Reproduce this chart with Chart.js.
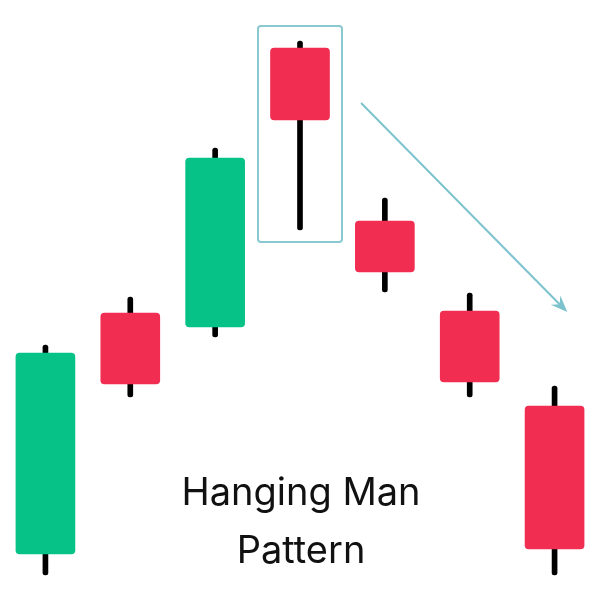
<!DOCTYPE html>
<html>
<head>
<meta charset="utf-8">
<script src="https://cdn.jsdelivr.net/npm/chart.js@4"></script>
<style>
  html, body { margin:0; padding:0; background:#fff; }
  #wrap { width:600px; height:600px; }
</style>
</head>
<body>
<div id="wrap"><canvas id="chart" width="600" height="600"></canvas></div>
<script>
// candles, left to right
const labels = ['1', '2', '3', '4', '5', '6', '7'];
const opens  = [46, 287, 273, 552, 379, 289, 194];
const closes = [247, 216, 442, 480, 328, 218, 51];
const highs  = [255, 303, 452, 559, 402, 307, 214];
const lows   = [25, 203, 263, 370, 308, 203, 25];

// highlighted candle and trend arrow (index units / price units)
const highlightIndex = 3;
const highlightTop = 574;
const highlightBottom = 358;
const arrowFrom = [3.72, 497];
const arrowTo = [6.15, 288];
const titleLines = ['Hanging Man', 'Pattern'];

const GREEN = '#07c286';
const RED = '#f22d52';

const bodyColors = opens.map((o, i) => closes[i] >= o ? GREEN : RED);

const overlay = {
  id: 'overlay',
  afterDatasetsDraw(chart){
    const { ctx, scales:{ x, y } } = chart;
    ctx.save();
    // box round the hanging man
    const cx = x.getPixelForValue(highlightIndex);
    ctx.strokeStyle = '#88c9d3';
    ctx.lineWidth = 2;
    ctx.beginPath();
    ctx.roundRect(cx - 42, y.getPixelForValue(highlightTop), 84,
      y.getPixelForValue(highlightBottom) - y.getPixelForValue(highlightTop), 3);
    ctx.stroke();

    // arrow
    const x1 = x.getPixelForValue(arrowFrom[0]), y1 = y.getPixelForValue(arrowFrom[1]);
    const x2 = x.getPixelForValue(arrowTo[0]),   y2 = y.getPixelForValue(arrowTo[1]);
    ctx.strokeStyle = '#7cc3cd';
    ctx.fillStyle = '#7cc3cd';
    ctx.lineWidth = 2;
    ctx.beginPath();
    ctx.moveTo(x1, y1);
    ctx.lineTo(x2 - 6, y2 - 6);
    ctx.stroke();
    const ang = Math.atan2(y2 - y1, x2 - x1);
    const len = 18, spread = 0.38;
    ctx.beginPath();
    ctx.moveTo(x2, y2);
    ctx.lineTo(x2 - len * Math.cos(ang - spread), y2 - len * Math.sin(ang - spread));
    ctx.lineTo(x2 - len * 0.6 * Math.cos(ang), y2 - len * 0.6 * Math.sin(ang));
    ctx.lineTo(x2 - len * Math.cos(ang + spread), y2 - len * Math.sin(ang + spread));
    ctx.closePath();
    ctx.fill();

    // caption
    ctx.fillStyle = '#111';
    ctx.font = '400 38px Inter, "Noto Sans", sans-serif';
    ctx.textAlign = 'center';
    ctx.textBaseline = 'alphabetic';
    ctx.fillText(titleLines[0], 301, 505);
    ctx.fillText(titleLines[1], 301, 563);
    ctx.restore();
  }
};

new Chart(document.getElementById('chart').getContext('2d'), {
  type: 'bar',
  data: {
    labels,
    datasets: [
      {
        label: 'body',
        data: opens.map((o, i) => [o, closes[i]]),
        backgroundColor: bodyColors,
        borderRadius: 4,
        borderSkipped: false,
        barThickness: 59,
        grouped: false,
        order: 1
      },
      {
        label: 'wick',
        data: lows.map((l, i) => [l, highs[i]]),
        backgroundColor: '#000',
        borderRadius: 2.5,
        borderSkipped: false,
        barThickness: 5,
        grouped: false,
        order: 2
      }
    ]
  },
  options: {
    responsive: false,
    animation: false,
    layout: { padding: { left: 3, right: 3, top: 0, bottom: 0 } },
    plugins: { legend: { display: false }, tooltip: { enabled: false } },
    scales: {
      x: { display: false, offset: true },
      y: { display: false, min: 0, max: 600 }
    }
  },
  plugins: [overlay]
});
</script>
</body>
</html>
